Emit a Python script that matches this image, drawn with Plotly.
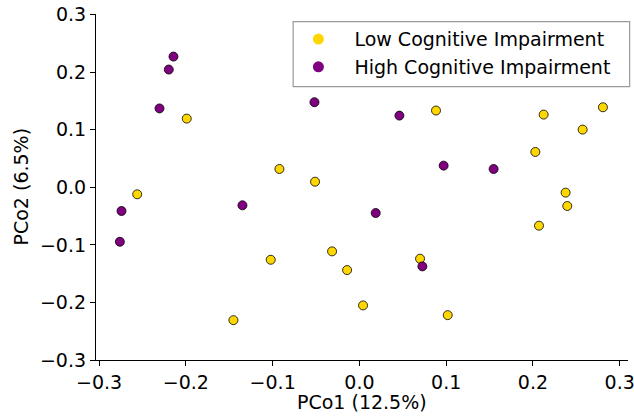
import plotly.graph_objects as go

low_x = [-0.199, -0.2561, -0.0922, -0.0511, -0.1022, -0.1452, 0.0883, 0.2124, 0.2807, 0.2573,
         0.2028, 0.2377, 0.2396, 0.207, -0.0315, -0.0142, 0.0042, 0.0699, 0.1018]
low_y = [0.1193, -0.0122, 0.0318, 0.0097, -0.1259, -0.2308, 0.1333, 0.1263, 0.139, 0.1002,
         0.0614, -0.0093, -0.0325, -0.0667, -0.1113, -0.1438, -0.2052, -0.1241, -0.2221]

high_x = [-0.2143, -0.2197, -0.2304, -0.2742, -0.2761, -0.1348, -0.0518, 0.0461, 0.0971, 0.1547,
          0.0188, 0.0726]
high_y = [0.227, 0.2045, 0.137, -0.0412, -0.0946, -0.0313, 0.1478, 0.1245, 0.0376, 0.0318,
          -0.0447, -0.1374]

group_names = ["Low Cognitive Impairment", "High Cognitive Impairment"]
group_colors = ["#FFD700", "#800080"]
x_ticks = [-0.3, -0.2, -0.1, 0.0, 0.1, 0.2, 0.3]
y_ticks = [-0.3, -0.2, -0.1, 0.0, 0.1, 0.2, 0.3]
x_title = "PCo1 (12.5%)"
y_title = "PCo2 (6.5%)"

FONT = "DejaVu Sans"
FS = 19
fig = go.Figure()

for xs, ys, color in [(low_x, low_y, group_colors[0]), (high_x, high_y, group_colors[1])]:
    fig.add_trace(go.Scatter(x=xs, y=ys, mode="markers", showlegend=False,
                             marker=dict(size=9, color=color, line=dict(color="black", width=0.8))))

for color, name in zip(group_colors, group_names):
    fig.add_trace(go.Scatter(x=[None], y=[None], mode="markers", name=name,
                             marker=dict(size=11, color=color, line=dict(width=0))))

axis_common = dict(showgrid=False, zeroline=False, showline=True, linecolor="black", linewidth=1.2,
                   ticks="outside", ticklen=5, tickwidth=1.2, tickcolor="black", automargin=False,
                   ticklabeloverflow="allow",
                   tickfont=dict(family=FONT, size=FS, color="black"), mirror=False)

fig.update_layout(
    width=634, height=420,
    margin=dict(l=95.5, r=6.3, t=14, b=60),
    paper_bgcolor="white", plot_bgcolor="white",
    font=dict(family=FONT, size=FS, color="black"),
    xaxis=dict(range=[-0.3036, 0.3096], tickvals=x_ticks, tickformat=".1f", **axis_common),
    yaxis=dict(range=[-0.3, 0.301], tickvals=y_ticks, tickformat=".1f", **axis_common),
    legend=dict(x=0.3504, y=0.982, xanchor="left", yanchor="top",
                borderwidth=0, bgcolor="rgba(0,0,0,0)",
                font=dict(family=FONT, size=FS), itemwidth=62),
    shapes=[dict(type="rect", xref="paper", yref="paper", layer="below",
                 x0=0.3706, x1=1.0031, y0=0.790, y1=0.9777,
                 line=dict(color="#9a9a9a", width=1.2), fillcolor="white")],
    annotations=[
        dict(text=x_title, xref="paper", yref="paper", x=0.5, y=-0.1214,
             xanchor="center", yanchor="middle", showarrow=False,
             font=dict(family=FONT, size=FS, color="black")),
        dict(text=y_title, xref="paper", yref="paper", x=-0.1419, y=0.5, textangle=-90,
             xanchor="center", yanchor="middle", showarrow=False,
             font=dict(family=FONT, size=FS, color="black")),
    ],
)

fig.write_html("out.html", config={"displayModeBar": False},
               post_script="document.body.style.margin='0';document.documentElement.style.overflow='hidden';")
